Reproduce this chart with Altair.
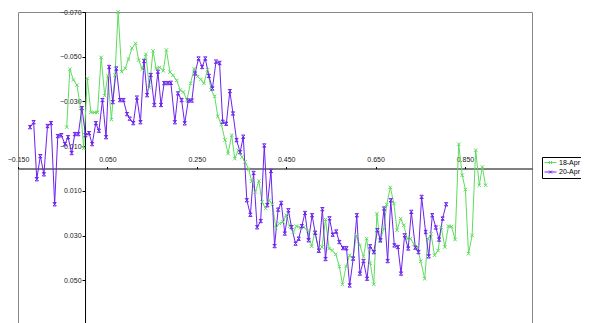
import altair as alt
import pandas as pd

series_names = ["18-Apr", "20-Apr"]
series_colors = ["#5fdc5f", "#6c22ee"]

x_18 = [-0.041, -0.034, -0.026, -0.018, -0.010, -0.003, 0.005, 0.013, 0.021, 0.028,
        0.036, 0.044, 0.051, 0.059, 0.067, 0.074, 0.082, 0.090, 0.097, 0.105,
        0.113, 0.120, 0.128, 0.136, 0.144, 0.152, 0.159, 0.167, 0.175, 0.182,
        0.190, 0.197, 0.205, 0.213, 0.220, 0.228, 0.236, 0.244, 0.252, 0.259,
        0.266, 0.274, 0.282, 0.290, 0.297, 0.305, 0.313, 0.320, 0.328, 0.335,
        0.343, 0.351, 0.358, 0.366, 0.373, 0.381, 0.389, 0.396, 0.404, 0.412,
        0.419, 0.427, 0.435, 0.443, 0.450, 0.458, 0.466, 0.473, 0.482, 0.489,
        0.498, 0.507, 0.514, 0.523, 0.530, 0.538, 0.546, 0.553, 0.561, 0.569,
        0.576, 0.584, 0.592, 0.599, 0.607, 0.615, 0.623, 0.630, 0.638, 0.646,
        0.653, 0.660, 0.668, 0.675, 0.683, 0.691, 0.698, 0.706, 0.713, 0.721,
        0.728, 0.736, 0.743, 0.751, 0.760, 0.767, 0.774, 0.782, 0.790, 0.797,
        0.805, 0.813, 0.820, 0.828, 0.836, 0.844, 0.851, 0.858, 0.866, 0.874,
        0.882, 0.889, 0.896]
y_18 = [-0.0185, -0.0444, -0.0396, -0.0373, -0.0269, -0.0090, -0.0403, -0.0251, -0.0251, -0.0251,
        -0.0497, -0.0326, -0.0415, -0.0219, -0.0418, -0.0700, -0.0433, -0.0448, -0.0489, -0.0538,
        -0.0560, -0.0485, -0.0444, -0.0511, -0.0361, -0.0526, -0.0448, -0.0452, -0.0437, -0.0530,
        -0.0431, -0.0417, -0.0394, -0.0351, -0.0342, -0.0307, -0.0381, -0.0446, -0.0411, -0.0398,
        -0.0381, -0.0442, -0.0352, -0.0323, -0.0233, -0.0198, -0.0128, -0.0067, -0.0149, -0.0044,
        -0.0081, -0.0052, -0.0030, 0.0003, 0.0057, 0.0105, 0.0056, 0.0150, 0.0178, 0.0142,
        0.0160, 0.0265, 0.0246, 0.0239, 0.0209, 0.0258, 0.0284, 0.0258, 0.0264, 0.0262,
        0.0279, 0.0348, 0.0284, 0.0366, 0.0351, 0.0228, 0.0358, 0.0366, 0.0384, 0.0438,
        0.0518, 0.0438, 0.0388, 0.0403, 0.0299, 0.0344, 0.0395, 0.0314, 0.0424, 0.0518,
        0.0202, 0.0326, 0.0271, 0.0161, 0.0084, 0.0157, 0.0276, 0.0224, 0.0254, 0.0314,
        0.0314, 0.0339, 0.0351, 0.0415, 0.0493, 0.0314, 0.0293, 0.0388, 0.0367, 0.0263,
        0.0351, 0.0258, 0.0260, 0.0318, -0.0109, 0.0030, 0.0094, 0.0381, 0.0299, -0.0082,
        0.0075, -0.0007, 0.0075]

x_20 = [-0.123, -0.115, -0.108, -0.100, -0.092, -0.084, -0.076, -0.068, -0.061, -0.053,
        -0.045, -0.038, -0.030, -0.023, -0.015, -0.007, 0.001, 0.009, 0.016, 0.024,
        0.031, 0.039, 0.047, 0.054, 0.062, 0.070, 0.078, 0.086, 0.094, 0.100,
        0.108, 0.116, 0.124, 0.132, 0.139, 0.147, 0.155, 0.163, 0.170, 0.177,
        0.185, 0.192, 0.201, 0.208, 0.216, 0.223, 0.231, 0.239, 0.246, 0.254,
        0.262, 0.269, 0.277, 0.285, 0.293, 0.301, 0.308, 0.316, 0.324, 0.331,
        0.339, 0.347, 0.354, 0.362, 0.370, 0.377, 0.385, 0.393, 0.401, 0.408,
        0.416, 0.424, 0.432, 0.439, 0.447, 0.455, 0.462, 0.471, 0.478, 0.485,
        0.492, 0.500, 0.508, 0.515, 0.523, 0.531, 0.538, 0.547, 0.554, 0.562,
        0.569, 0.577, 0.585, 0.592, 0.600, 0.608, 0.615, 0.623, 0.631, 0.638,
        0.646, 0.654, 0.661, 0.669, 0.677, 0.684, 0.692, 0.700, 0.707, 0.715,
        0.723, 0.730, 0.739, 0.746, 0.753, 0.762, 0.769, 0.777, 0.785, 0.792,
        0.800, 0.808]
y_20 = [-0.0185, -0.0207, 0.0048, -0.0055, 0.0026, -0.0190, -0.0203, 0.0160, -0.0145, -0.0149,
        -0.0109, -0.0140, -0.0069, -0.0154, -0.0154, -0.0270, -0.0149, -0.0158, -0.0109, -0.0203,
        -0.0169, -0.0306, -0.0140, -0.0454, -0.0297, -0.0447, -0.0306, -0.0306, -0.0243, -0.0223,
        -0.0203, -0.0317, -0.0207, -0.0481, -0.0328, -0.0418, -0.0284, -0.0433, -0.0284, -0.0382,
        -0.0382, -0.0383, -0.0207, -0.0336, -0.0306, -0.0202, -0.0304, -0.0304, -0.0425, -0.0492,
        -0.0454, -0.0492, -0.0414, -0.0358, -0.0478, -0.0472, -0.0209, -0.0200, -0.0346, -0.0246,
        -0.0127, -0.0073, -0.0142, 0.0142, 0.0207, 0.0020, 0.0263, 0.0235, -0.0103, 0.0164,
        0.0011, 0.0347, 0.0184, 0.0154, 0.0291, 0.0187, 0.0262, 0.0336, 0.0314, 0.0258,
        0.0199, 0.0321, 0.0209, 0.0288, 0.0368, 0.0182, 0.0405, 0.0223, 0.0296, 0.0282,
        0.0329, 0.0356, 0.0357, 0.0523, 0.0403, 0.0209, 0.0470, 0.0414, 0.0493, 0.0348,
        0.0374, 0.0276, 0.0321, 0.0179, 0.0414, 0.0142, 0.0344, 0.0351, 0.0470, 0.0299,
        0.0358, 0.0194, 0.0354, 0.0374, 0.0127, 0.0284, 0.0393, 0.0209, 0.0264, 0.0318,
        0.0224, 0.0160]

x_ticks = [-0.15, 0.05, 0.25, 0.45, 0.65, 0.85]
y_ticks = [-0.07, -0.05, -0.03, -0.01, 0.01, 0.03, 0.05, 0.07]

df = pd.concat([
    pd.DataFrame({"x": x_18, "y": y_18, "series": series_names[0]}),
    pd.DataFrame({"x": x_20, "y": y_20, "series": series_names[1]}),
], ignore_index=True)
df["order"] = df.index

W, H = 514, 313
xdom = [-0.15, 1.0]
ydom = [-0.07, 0.07]
x_axis_offset = -H * (0 - ydom[0]) / (ydom[1] - ydom[0])
y_axis_offset = -W * (0 - xdom[0]) / (xdom[1] - xdom[0])

FONT = "Liberation Sans"

x_enc = alt.X("x:Q", scale=alt.Scale(domain=xdom, nice=False, zero=False),
              axis=alt.Axis(orient="top", offset=x_axis_offset, values=x_ticks, format=".3f",
                            grid=False, title=None, domainColor="#000000", tickColor="#000000",
                            tickSize=2, labelFontSize=7, labelPadding=4, labelColor="#222222",
                            labelFont=FONT, labelFlush=False, labelOverlap=False, labelBound=False))
y_enc = alt.Y("y:Q", scale=alt.Scale(domain=ydom, reverse=True, nice=False, zero=False),
              axis=alt.Axis(orient="left", offset=y_axis_offset, values=y_ticks, format=".3f",
                            grid=False, title=None, domainColor="#000000", tickColor="#000000",
                            tickSize=3, labelFontSize=7, labelPadding=1, labelColor="#222222",
                            labelFont=FONT, labelFlush=False, labelOverlap=False, labelBound=False))

color_scale = alt.Scale(domain=series_names, range=series_colors)
legend = alt.Legend(title=None, orient="none", legendX=524, legendY=145,
                    symbolType="M-2,0L2,0M-0.5,-0.5L0.5,0.5M-0.5,0.5L0.5,-0.5",
                    symbolSize=36, symbolStrokeWidth=1, symbolOffset=3,
                    symbolFillColor="transparent",
                    labelOffset=5, labelFontSize=7, labelFont=FONT, labelColor="#000000",
                    strokeColor="#000000", fillColor="#ffffff", padding=2, rowPadding=1.5)

shape_x = "M-1,-1L1,1M-1,1L1,-1"
shape_ast = "M-1,-1L1,1M-1,1L1,-1M-1,-1L1,-1M-1,1L1,1"

color_enc = alt.Color("series:N", scale=color_scale, legend=legend)

lines = alt.Chart(df).mark_line(strokeWidth=1, clip=False).encode(
    x=x_enc, y=y_enc, color=color_enc, detail="series:N", order="order:Q",
)
pts_18 = alt.Chart(df).transform_filter(alt.datum.series == series_names[0]).mark_point(
    shape=shape_x, filled=False, size=12, strokeWidth=1, opacity=1, clip=False
).encode(x="x:Q", y="y:Q", color=color_enc)
pts_20 = alt.Chart(df).transform_filter(alt.datum.series == series_names[1]).mark_point(
    shape=shape_ast, filled=False, size=11, strokeWidth=1, opacity=1, clip=False
).encode(x="x:Q", y="y:Q", color=color_enc)

chart = alt.layer(lines, pts_18, pts_20).properties(
    width=W, height=H,
    autosize=alt.AutoSizeParams(type="none"),
    padding={"left": 10, "top": 4, "right": 49, "bottom": 0},
    background="#ffffff",
).configure_view(stroke="#888888", strokeWidth=1)

chart.save("out.html", embed_options={"renderer": "svg", "actions": False})
